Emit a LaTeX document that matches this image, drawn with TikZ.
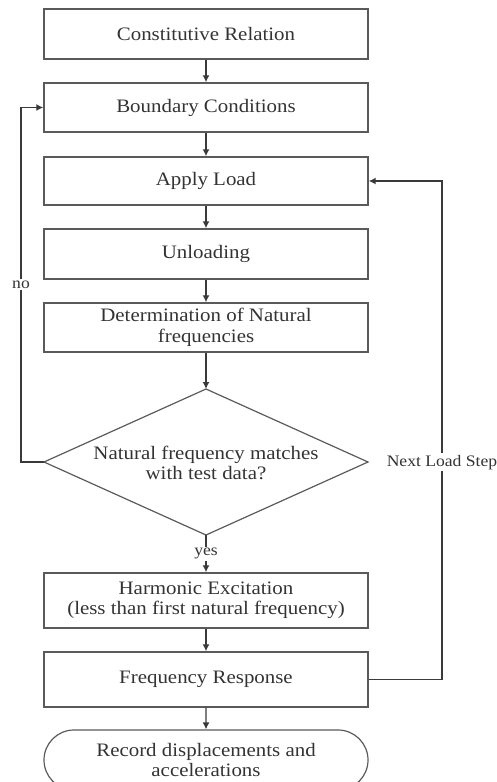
\documentclass[tikz,border=0pt]{standalone}
\usepackage{fontspec}
\setmainfont{Liberation Serif}[FakeStretch=1.1]
\usetikzlibrary{shapes.misc,arrows.meta}
\definecolor{ln}{HTML}{3A3A3A}
\definecolor{bx}{HTML}{5A5A5A}
\definecolor{tx}{HTML}{333333}
\begin{document}
\begin{tikzpicture}[x=1pt,y=1pt,
  box/.style={draw=bx,line width=1.4pt,minimum width=324pt,inner sep=0pt,align=center,
    text=tx,font=\fontsize{19}{20.5}\selectfont},
  dtext/.style={inner sep=0pt,align=center,text=tx,font=\fontsize{19}{20.5}\selectfont},
  dline/.style={draw=bx,line width=1.2pt,line join=miter},
  term/.style={draw=bx,line width=1.2pt,rounded rectangle,minimum width=324pt,minimum height=60pt,
    inner sep=0pt,align=center,text=tx,font=\fontsize{19}{20.5}\selectfont},
  arr/.style={draw=ln,line width=1.3pt,-{Latex[length=7pt,width=7pt]}},
  lbl/.style={fill=white,text=tx,inner sep=1.5pt,font=\fontsize{16}{18}\selectfont}]
\useasboundingbox (0,0) rectangle (496,-782);
\node[box,minimum height=50pt] (b1) at (206,-34) {Constitutive Relation};
\node[box,minimum height=49pt] (b2) at (206,-107.5) {Boundary Conditions};
\node[box,minimum height=48pt] (b3) at (206,-181) {Apply Load};
\node[box,minimum height=50pt] (b4) at (206,-254) {Unloading};
\node[box,minimum height=49pt] (b5) at (206,-327.5) {Determination of Natural\\frequencies};
\coordinate (dt) at (206,-389);
\coordinate (db) at (206,-535);
\coordinate (dl) at (44,-462);
\coordinate (dr) at (368,-462);
\draw[dline] (dt) -- (dr) -- (db) -- (dl) -- cycle;
\node[dtext] (d) at (206,-463) {Natural frequency matches\\with test data?};
\node[box,minimum height=55pt] (b6) at (206,-600.5) {Harmonic Excitation\\(less than first natural frequency)};
\node[box,minimum height=55pt] (b7) at (206,-679.5) {Frequency Response};
\node[term] (t) at (206,-760) {Record displacements and\\accelerations};
\coordinate (lc) at (21,-462);
\coordinate (rc) at (442,-679.5);
\draw[arr] (b1) -- (b2);
\draw[arr] (b2) -- (b3);
\draw[arr] (b3) -- (b4);
\draw[arr] (b4) -- (b5);
\draw[arr] (b5) -- (dt);
\draw[arr] (db) -- (b6) node[lbl,pos=0.5] {yes};
\draw[arr] (b6) -- (b7);
\draw[arr] (b7) -- (t);
\draw[arr] (dl) -- (lc) |- (b2.west) node[lbl,pos=0.25] {no};
\draw[arr] (b7.east) -- (rc) |- (b3.east) node[lbl,pos=0.218] {Next Load Step};
\end{tikzpicture}
\end{document}
